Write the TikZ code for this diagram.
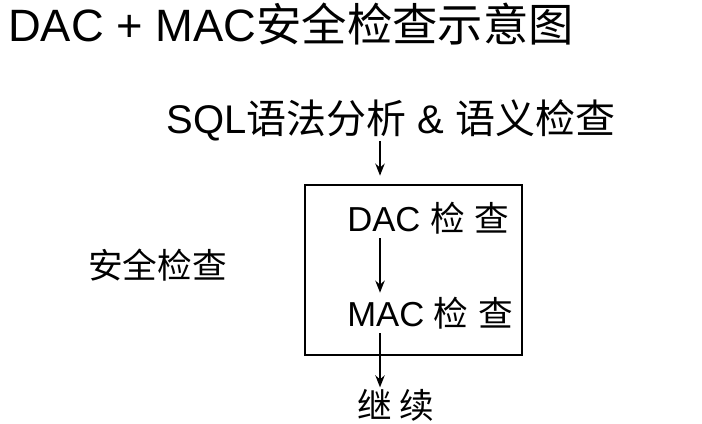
\documentclass[tikz,border=0pt]{standalone}
\usepackage{fontspec}
\setmainfont{Liberation Sans}
\newfontfamily\cjk{Noto Sans CJK SC}
\usepackage{tikz}
\usetikzlibrary{
  positioning,
  arrows.meta
}

\begin{document}
\begin{tikzpicture}[
  x=0.75pt, y=-0.75pt,
  title/.style={anchor=west, inner sep=0pt, font=\fontsize{34}{38}\selectfont},
  head/.style={inner sep=0pt, font=\fontsize{30}{34}\selectfont},
  txt/.style={anchor=west, inner sep=0pt, font=\fontsize{26}{30}\selectfont},
  frame/.style={draw, line width=2pt, inner sep=0pt,
                minimum width=162.75pt, minimum height=127.5pt},
  flow/.style={-{Stealth[length=9pt,width=7pt]}, line width=1.5pt}
]
  \useasboundingbox (0,0) rectangle (702,424);

  % Title
  \node[title] (ttl) at (8,24) {DAC + MAC{\cjk 安全检查示意图}};

  % Parser stage
  \node[head] (sql) at (391,120) {SQL{\cjk 语法分析} \& {\cjk 语义检查}};

  % Security check box
  \node[frame] (box) at (413.5,270) {};
  \node[txt] (dac) at (347,218) {DAC {\cjk 检} {\cjk 查}};
  \node[txt] (mac) at (347,313) {MAC {\cjk 检} {\cjk 查}};
  \node[txt] (sec) at (88,265) {\cjk 安全检查};

  % Continue
  \node[txt] (cont) at (357,405) {\cjk 继 续};

  % Flow arrows
  \coordinate (ax) at (380,0);
  \draw[flow, shorten >=6pt] (sql.south -| ax) -- (box.north -| ax);
  \draw[flow, shorten <=3pt, shorten >=3pt] (dac.south -| ax) -- (mac.north -| ax);
  \draw[flow, shorten <=3pt, shorten >=1pt] (mac.south -| ax) -- (cont.north -| ax);
\end{tikzpicture}
\end{document}
